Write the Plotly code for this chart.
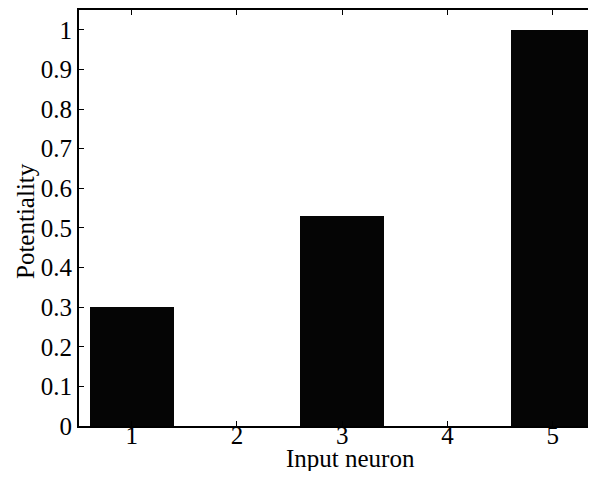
import plotly.graph_objects as go

neurons = [1, 2, 3, 4, 5]
potentiality = [0.30, 0.0, 0.53, 0.0, 1.0]
y_ticks = [0, 0.1, 0.2, 0.3, 0.4, 0.5, 0.6, 0.7, 0.8, 0.9, 1.0]
y_tick_labels = ["0", "0.1", "0.2", "0.3", "0.4", "0.5", "0.6", "0.7", "0.8", "0.9", "1"]

FONT = "Liberation Serif"

W, H = 580, 463
ML, MR, MT, MB = 71, 0, 2, 45
pw = W - ML - MR
ph = H - MT - MB

def px_to_paper(x, y):
    return (x - ML) / pw, (H - MB - y) / ph

fig = go.Figure(go.Bar(
    x=neurons, y=potentiality, width=0.8,
    marker=dict(color="#050505", line=dict(width=0)),
))

xt_x, xt_y = px_to_paper(342, 450)
yt_x, yt_y = px_to_paper(17, 213)

fig.update_layout(
    width=W, height=H,
    margin=dict(l=ML, r=MR, t=MT, b=MB),
    paper_bgcolor="white", plot_bgcolor="white",
    font=dict(family=FONT, size=25, color="black"),
    showlegend=False,
    bargap=0,
    annotations=[
        dict(text="Input neuron", x=xt_x, y=xt_y, xref="paper", yref="paper",
             xanchor="center", yanchor="middle",
             showarrow=False, font=dict(family=FONT, size=25)),
        dict(text="Potentiality", x=yt_x, y=yt_y, xref="paper", yref="paper",
             xanchor="center", yanchor="middle", textangle=-90,
             showarrow=False, font=dict(family=FONT, size=25)),
    ],
)

fig.update_xaxes(
    range=[0.5, 0.5 + pw / 105.25], tickvals=neurons, ticktext=[str(n) for n in neurons],
    ticks="inside", ticklen=5, tickwidth=1, tickcolor="black",
    showline=True, linecolor="black", linewidth=2, mirror="ticks",
    showgrid=False, zeroline=False, automargin=False,
    tickfont=dict(family=FONT, size=25), ticklabelstandoff=-14,
)
fig.update_yaxes(
    range=[0, 1.05], tickvals=y_ticks, ticktext=y_tick_labels,
    ticks="inside", ticklen=5, tickwidth=1, tickcolor="black",
    showline=True, linecolor="black", linewidth=2,
    showgrid=False, zeroline=False, automargin=False,
    tickfont=dict(family=FONT, size=25),
)

fig.write_html("out.html")
